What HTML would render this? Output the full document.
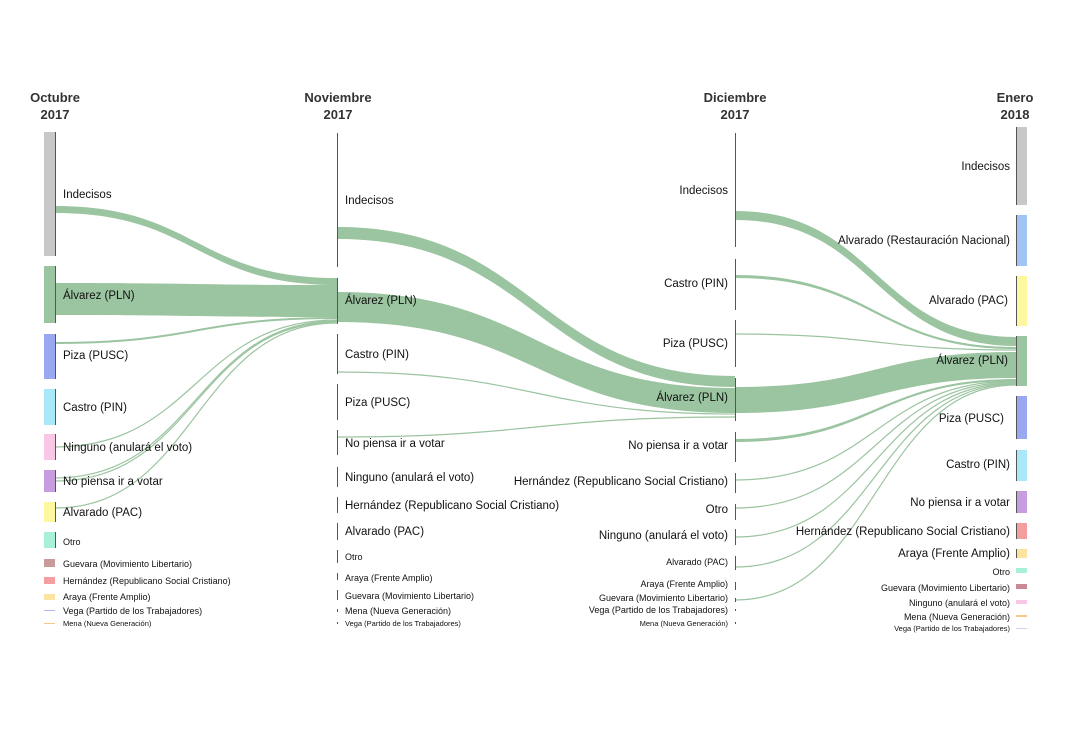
<!DOCTYPE html>
<html><head><meta charset="utf-8"><style>
html,body{margin:0;padding:0;background:#fff;}
svg{display:block;font-family:"Liberation Sans",sans-serif;}
.h{font-weight:bold;font-size:13px;fill:#333;text-anchor:middle}
.l{font-size:11.5px;fill:#111}
.s{font-size:9px;fill:#111}
.t{font-size:7.5px;fill:#111}
.r{text-anchor:end}
.f{fill:#9bc4a0;stroke:none}
.ln{fill:none;stroke:#9bc4a0;stroke-width:1.2}
.ax{stroke:#555;stroke-width:1}
</style></head><body>
<svg width="1072" height="732" viewBox="0 0 1072 732">
<!-- headers -->
<text class="h" x="55" y="102">Octubre</text><text class="h" x="55" y="119">2017</text>
<text class="h" x="338" y="102">Noviembre</text><text class="h" x="338" y="119">2017</text>
<text class="h" x="735" y="102">Diciembre</text><text class="h" x="735" y="119">2017</text>
<text class="h" x="1015" y="102">Enero</text><text class="h" x="1015" y="119">2018</text>

<!-- Oct -> Nov flows -->
<path class="f" d="M55 206 C196 206 196 278 337 278 L337 285 C196 285 196 213 55 213Z"/>
<path class="f" d="M55 283 C196 283 196 285 337 285 L337 317 C196 317 196 315 55 315Z"/>
<path class="f" d="M55 342 C196 342 196 317 337 317 L337 319 C196 319 196 344 55 344Z"/>
<path class="ln" d="M55 447 C196 447 196 320 337 320"/>
<path class="ln" d="M55 478 C196 478 196 321 337 321"/>
<path class="ln" d="M55 481 C196 481 196 322 337 322"/>
<path class="ln" d="M55 508 C196 508 196 323 337 323"/>

<!-- Nov -> Dec flows -->
<path class="f" d="M337 227 C536 227 536 376 735 376 L735 387 C536 387 536 239 337 239Z"/>
<path class="f" d="M337 292 C536 292 536 388 735 388 L735 413 C536 413 536 322 337 322Z"/>
<path class="ln" d="M337 372 C536 372 536 414 735 414"/>
<path class="ln" d="M337 437 C536 437 536 417 735 417"/>

<!-- Dec -> Jan flows -->
<path class="f" d="M735 211 C876 211 876 337 1016 337 L1016 346 C876 346 876 220 735 220Z"/>
<path class="f" d="M735 275 C876 275 876 347 1016 347 L1016 349 C876 349 876 278 735 278Z"/>
<path class="ln" d="M735 334 C876 334 876 350 1016 350"/>
<path class="f" d="M735 387 C876 387 876 352 1016 352 L1016 378 C876 378 876 413 735 413Z"/>
<path class="f" d="M735 439 C876 439 876 379 1016 379 L1016 381 C876 381 876 442 735 442Z"/>
<path class="ln" d="M735 480 C876 480 876 381 1016 381"/>
<path class="ln" d="M735 508 C876 508 876 382 1016 382"/>
<path class="ln" d="M735 537 C876 537 876 383 1016 383"/>
<path class="ln" d="M735 567 C876 567 876 384 1016 384"/>
<path class="ln" d="M735 600 C876 600 876 385 1016 385"/>

<!-- Oct nodes -->
<rect x="44" y="132" width="11" height="124" fill="#c8c8c8"/>
<rect x="44" y="266" width="11" height="57" fill="#9bc4a0"/>
<rect x="44" y="334" width="11" height="45" fill="#99a8f0"/>
<rect x="44" y="389" width="11" height="36" fill="#a8e8f8"/>
<rect x="44" y="434" width="11" height="26" fill="#f9c6e6"/>
<rect x="44" y="470" width="11" height="22" fill="#c79de0"/>
<rect x="44" y="502" width="11" height="20" fill="#fdf7a0"/>
<rect x="44" y="532" width="11" height="16" fill="#a8f0d8"/>
<rect x="44" y="559" width="11" height="8" fill="#c99a9a"/>
<rect x="44" y="577" width="11" height="7" fill="#f59ea0"/>
<rect x="44" y="594" width="11" height="6" fill="#fde3a0"/>
<rect x="44" y="610" width="11" height="1" fill="#b0b8f0"/>
<rect x="44" y="623" width="11" height="1" fill="#f8c88a"/>
<g class="ax">
<line x1="55.5" y1="132" x2="55.5" y2="256"/><line x1="55.5" y1="266" x2="55.5" y2="323"/>
<line x1="55.5" y1="334" x2="55.5" y2="379"/><line x1="55.5" y1="389" x2="55.5" y2="425"/>
<line x1="55.5" y1="434" x2="55.5" y2="460"/><line x1="55.5" y1="470" x2="55.5" y2="492"/>
<line x1="55.5" y1="502" x2="55.5" y2="522"/><line x1="55.5" y1="532" x2="55.5" y2="548"/>
</g>
<text class="l" x="63" y="198">Indecisos</text>
<text class="l" x="63" y="299">Álvarez (PLN)</text>
<text class="l" x="63" y="359">Piza (PUSC)</text>
<text class="l" x="63" y="411">Castro (PIN)</text>
<text class="l" x="63" y="451">Ninguno (anulará el voto)</text>
<text class="l" x="63" y="485">No piensa ir a votar</text>
<text class="l" x="63" y="516">Alvarado (PAC)</text>
<text class="s" x="63" y="545">Otro</text>
<text class="s" x="63" y="567">Guevara (Movimiento Libertario)</text>
<text class="s" x="63" y="584">Hernández (Republicano Social Cristiano)</text>
<text class="s" x="63" y="600">Araya (Frente Amplio)</text>
<text class="s" x="63" y="614">Vega (Partido de los Trabajadores)</text>
<text class="t" x="63" y="626">Mena (Nueva Generación)</text>

<!-- Nov nodes -->
<g class="ax">
<line x1="337.5" y1="133" x2="337.5" y2="267"/><line x1="337.5" y1="278" x2="337.5" y2="324"/>
<line x1="337.5" y1="334" x2="337.5" y2="374"/><line x1="337.5" y1="384" x2="337.5" y2="420"/>
<line x1="337.5" y1="430" x2="337.5" y2="455"/><line x1="337.5" y1="467" x2="337.5" y2="487"/>
<line x1="337.5" y1="497" x2="337.5" y2="513"/><line x1="337.5" y1="523" x2="337.5" y2="540"/>
<line x1="337.5" y1="550" x2="337.5" y2="563"/><line x1="337.5" y1="573" x2="337.5" y2="580"/>
<line x1="337.5" y1="590" x2="337.5" y2="600"/><line x1="337.5" y1="609" x2="337.5" y2="612"/>
<line x1="337.5" y1="622" x2="337.5" y2="624"/>
</g>
<text class="l" x="345" y="204">Indecisos</text>
<text class="l" x="345" y="304">Álvarez (PLN)</text>
<text class="l" x="345" y="358">Castro (PIN)</text>
<text class="l" x="345" y="406">Piza (PUSC)</text>
<text class="l" x="345" y="447">No piensa ir a votar</text>
<text class="l" x="345" y="481">Ninguno (anulará el voto)</text>
<text class="l" x="345" y="509">Hernández (Republicano Social Cristiano)</text>
<text class="l" x="345" y="535">Alvarado (PAC)</text>
<text class="s" x="345" y="560">Otro</text>
<text class="s" x="345" y="581">Araya (Frente Amplio)</text>
<text class="s" x="345" y="599">Guevara (Movimiento Libertario)</text>
<text class="s" x="345" y="614">Mena (Nueva Generación)</text>
<text class="t" x="345" y="626">Vega (Partido de los Trabajadores)</text>

<!-- Dec nodes -->
<g class="ax">
<line x1="735.5" y1="133" x2="735.5" y2="247"/><line x1="735.5" y1="259" x2="735.5" y2="310"/>
<line x1="735.5" y1="320" x2="735.5" y2="367"/><line x1="735.5" y1="378" x2="735.5" y2="421"/>
<line x1="735.5" y1="432" x2="735.5" y2="462"/><line x1="735.5" y1="473" x2="735.5" y2="493"/>
<line x1="735.5" y1="504" x2="735.5" y2="520"/><line x1="735.5" y1="529" x2="735.5" y2="545"/>
<line x1="735.5" y1="556" x2="735.5" y2="570"/><line x1="735.5" y1="582" x2="735.5" y2="590"/>
<line x1="735.5" y1="598" x2="735.5" y2="602"/><line x1="735.5" y1="609" x2="735.5" y2="611"/>
<line x1="735.5" y1="622" x2="735.5" y2="624"/>
</g>
<g class="r">
<text class="l r" x="728" y="194">Indecisos</text>
<text class="l r" x="728" y="287">Castro (PIN)</text>
<text class="l r" x="728" y="347">Piza (PUSC)</text>
<text class="l r" x="728" y="401">Álvarez (PLN)</text>
<text class="l r" x="728" y="449">No piensa ir a votar</text>
<text class="l r" x="728" y="485">Hernández (Republicano Social Cristiano)</text>
<text class="l r" x="728" y="513">Otro</text>
<text class="l r" x="728" y="539">Ninguno (anulará el voto)</text>
<text class="s r" x="728" y="565">Alvarado (PAC)</text>
<text class="s r" x="728" y="587">Araya (Frente Amplio)</text>
<text class="s r" x="728" y="601">Guevara (Movimiento Libertario)</text>
<text class="s r" x="728" y="613">Vega (Partido de los Trabajadores)</text>
<text class="t r" x="728" y="626">Mena (Nueva Generación)</text>
</g>

<!-- Jan nodes -->
<rect x="1016" y="127" width="11" height="78" fill="#c8c8c8"/>
<rect x="1016" y="215" width="11" height="51" fill="#a0c4f5"/>
<rect x="1016" y="276" width="11" height="50" fill="#fdf7a0"/>
<rect x="1016" y="336" width="11" height="50" fill="#9bc4a0"/>
<rect x="1016" y="396" width="11" height="43" fill="#99a8f0"/>
<rect x="1016" y="450" width="11" height="31" fill="#a8e8f8"/>
<rect x="1016" y="491" width="11" height="22" fill="#c79de0"/>
<rect x="1016" y="523" width="11" height="16" fill="#f59ea0"/>
<rect x="1016" y="549" width="11" height="9" fill="#fde3a0"/>
<rect x="1016" y="568" width="11" height="5" fill="#a8f0d8"/>
<rect x="1016" y="584" width="11" height="5" fill="#c98a95"/>
<rect x="1016" y="600" width="11" height="4" fill="#f9c6e6"/>
<rect x="1016" y="615" width="11" height="2" fill="#f8c88a"/>
<rect x="1016" y="628" width="11" height="1" fill="#d0d4f0"/>
<g class="ax">
<line x1="1016.5" y1="127" x2="1016.5" y2="205"/><line x1="1016.5" y1="215" x2="1016.5" y2="266"/>
<line x1="1016.5" y1="276" x2="1016.5" y2="326"/><line x1="1016.5" y1="336" x2="1016.5" y2="386"/>
<line x1="1016.5" y1="396" x2="1016.5" y2="439"/><line x1="1016.5" y1="450" x2="1016.5" y2="481"/>
<line x1="1016.5" y1="491" x2="1016.5" y2="513"/><line x1="1016.5" y1="523" x2="1016.5" y2="539"/>
<line x1="1016.5" y1="549" x2="1016.5" y2="558"/>
</g>
<text class="l r" x="1010" y="170">Indecisos</text>
<text class="l r" x="1010" y="244">Alvarado (Restauración Nacional)</text>
<text class="l r" x="1008" y="304">Alvarado (PAC)</text>
<text class="l r" x="1008" y="364">Álvarez (PLN)</text>
<text class="l r" x="1004" y="422">Piza (PUSC)</text>
<text class="l r" x="1010" y="468">Castro (PIN)</text>
<text class="l r" x="1010" y="506">No piensa ir a votar</text>
<text class="l r" x="1010" y="535">Hernández (Republicano Social Cristiano)</text>
<text class="l r" x="1010" y="557">Araya (Frente Amplio)</text>
<text class="s r" x="1010" y="575">Otro</text>
<text class="s r" x="1010" y="591">Guevara (Movimiento Libertario)</text>
<text class="s r" x="1010" y="606">Ninguno (anulará el voto)</text>
<text class="s r" x="1010" y="620">Mena (Nueva Generación)</text>
<text class="t r" x="1010" y="631">Vega (Partido de los Trabajadores)</text>
</svg>
</body></html>
